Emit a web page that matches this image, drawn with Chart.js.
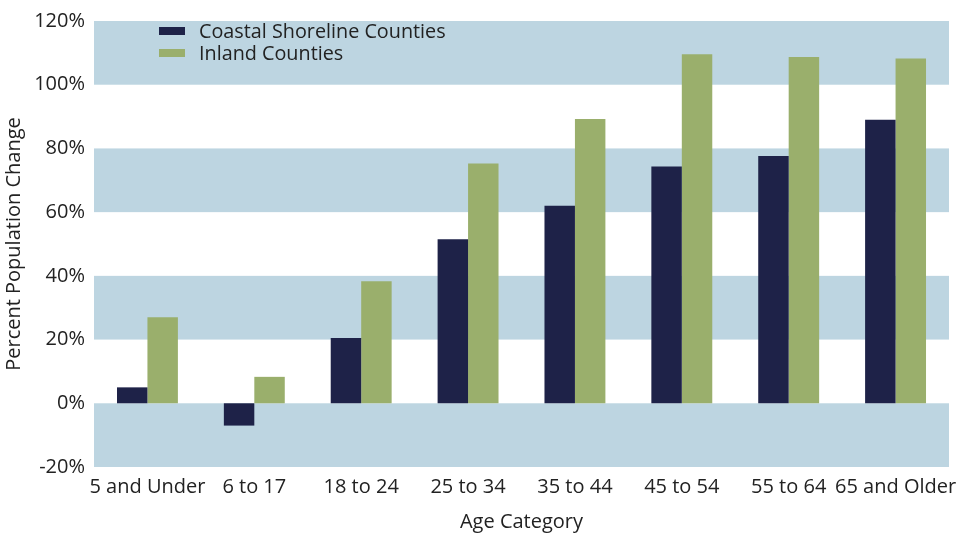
<!DOCTYPE html>
<html>
<head>
<meta charset="utf-8">
<script src="https://cdn.jsdelivr.net/npm/chart.js@4"></script>
<style>
  html, body { margin: 0; padding: 0; background: #fff; }
  #wrap { position: relative; width: 976px; height: 534px; }
  #legend { position: absolute; left: 159px; top: 20px; font-family: "Open Sans", Lato, sans-serif; font-size: 19.8px; color: #222; line-height: 22px; }
  #legend div { display: flex; align-items: center; }
  #legend span.box { display: inline-block; width: 26px; height: 8px; margin-right: 14px; }
</style>
</head>
<body>
<div id="wrap">
  <canvas id="c" width="976" height="534"></canvas>
  <div id="legend"></div>
</div>
<script>
const categories = ["5 and Under", "6 to 17", "18 to 24", "25 to 34", "35 to 44", "45 to 54", "55 to 64", "65 and Older"];
const seriesNames = ["Coastal Shoreline Counties", "Inland Counties"];
const coastal = [5, -7, 20.5, 51.5, 62, 74.3, 77.6, 89];
const inland = [27, 8.3, 38.3, 75.3, 89.2, 109.6, 108.7, 108.2];
const yTicks = [-20, 0, 20, 40, 60, 80, 100, 120];
const colors = ["#1e2248", "#9aaf6c"];
const bandColor = "#bdd5e1";

const bands = {
  id: "bands",
  beforeDatasetsDraw(chart) {
    const { ctx, chartArea, scales } = chart;
    const y = scales.y;
    ctx.save();
    ctx.fillStyle = bandColor;
    for (let i = 0; i < yTicks.length - 1; i += 2) {
      const top = y.getPixelForValue(yTicks[i + 1]);
      const bot = y.getPixelForValue(yTicks[i]);
      ctx.fillRect(chartArea.left, top, chartArea.right - chartArea.left, bot - top);
    }
    ctx.restore();
  }
};

const font = { family: "'Open Sans', Lato, sans-serif", size: 20 };

new Chart(document.getElementById("c"), {
  type: "bar",
  data: {
    labels: categories,
    datasets: [
      { label: seriesNames[0], data: coastal, backgroundColor: colors[0] },
      { label: seriesNames[1], data: inland, backgroundColor: colors[1] }
    ]
  },
  options: {
    responsive: false,
    animation: false,
    layout: { padding: { left: 0, right: 27, top: 14, bottom: 0 } },
    datasets: { bar: { categoryPercentage: 0.57, barPercentage: 1.0 } },
    plugins: { legend: { display: false }, tooltip: { enabled: false } },
    scales: {
      x: {
        grid: { display: false, drawTicks: false },
        border: { display: false },
        ticks: { color: "#222", font: font, padding: 8, maxRotation: 0, autoSkip: false },
        title: { display: true, text: "Age Category", color: "#222", font: font, padding: { top: 5, bottom: 0 } },
        afterFit(s) { s.height = 67; }
      },
      y: {
        min: -20, max: 120,
        afterBuildTicks(s) { s.ticks = yTicks.map(v => ({ value: v })); },
        grid: { display: false, drawTicks: false },
        border: { display: false },
        ticks: { color: "#222", font: font, padding: 9, callback: v => v + "%" },
        title: { display: true, text: "Percent Population Change", color: "#222", font: font, padding: { top: 2, bottom: 0 } },
        afterFit(s) { s.width = 94; }
      }
    }
  },
  plugins: [bands]
});

const legend = document.getElementById("legend");
seriesNames.forEach((n, i) => {
  const row = document.createElement("div");
  const box = document.createElement("span");
  box.className = "box";
  box.style.background = colors[i];
  row.appendChild(box);
  row.appendChild(document.createTextNode(n));
  legend.appendChild(row);
});
</script>
</body>
</html>
